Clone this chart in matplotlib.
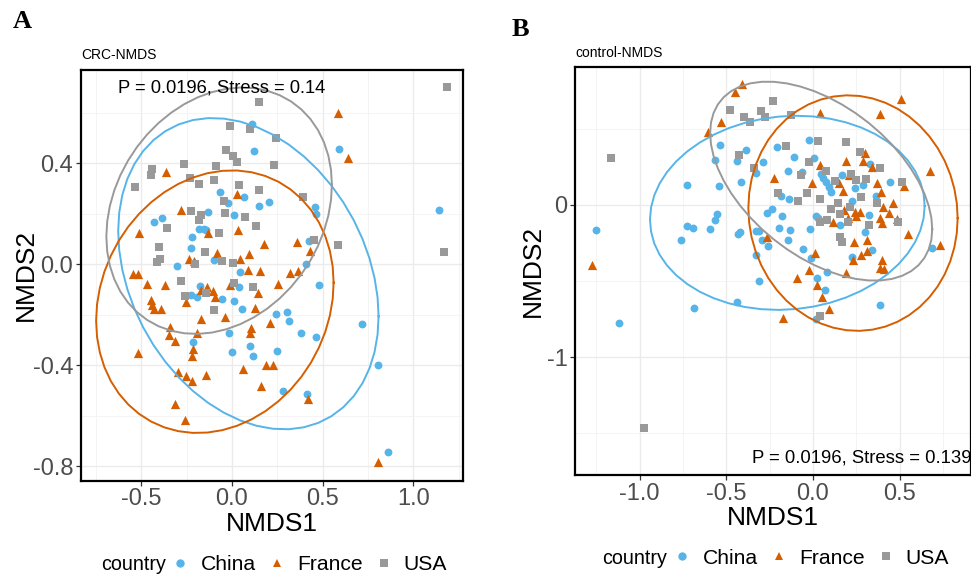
import numpy as np
import matplotlib
matplotlib.use("Agg")
import matplotlib.pyplot as plt
from matplotlib.lines import Line2D

plt.rcParams['font.family'] = ['Liberation Sans', 'DejaVu Sans']

# ---------------- data: panel A (CRC) ----------------
a_china_x = [0.109, 0.123, -0.066, 0.065, -0.024, 0.202, 0.149, -0.134, 0.009, -0.388,
             -0.43, -0.18, -0.154, -0.143, -0.222, -0.228, -0.099, -0.302, 0.046, 0.59,
             0.459, 0.463, 1.142, 0.425, 0.408, -0.224, -0.193, -0.175, -0.055, 0.039,
             0.013, 0.055, 0.241, -0.017, -0.215, -0.002, 0.099, 0.117, 0.25, 0.48,
             0.302, 0.316, 0.379, 0.462, 0.715, 0.807, 0.283, 0.412, 0.859]
a_china_y = [0.554, 0.449, 0.286, 0.268, 0.243, 0.247, 0.231, 0.207, 0.195, 0.185,
             0.169, 0.14, 0.14, 0.134, 0.107, 0.066, 0.017, -0.006, -0.032, 0.455,
             0.228, 0.199, 0.216, 0.092, 0.002, -0.122, -0.128, -0.085, -0.139, -0.091,
             -0.147, -0.178, -0.198, -0.273, -0.307, -0.347, -0.324, -0.362, -0.342, -0.082,
             -0.188, -0.225, -0.273, -0.287, -0.236, -0.399, -0.501, -0.515, -0.743]

a_france_x = [-0.362, 0.026, -0.283, -0.513, -0.132, 0.031, -0.084, 0.175, 0.095, 0.044,
              -0.237, -0.211, -0.544, -0.518, 0.09, 0.156, 0.586, 0.638, 0.36, 0.429,
              0.32, 0.366, -0.469, -0.371, -0.448, -0.441, -0.43, -0.39, -0.252, -0.173,
              -0.14, -0.105, -0.095, -0.013, 0.145, 0.125, -0.173, -0.04, -0.34, -0.349,
              -0.316, -0.191, 0.106, 0.099, 0.211, -0.217, -0.221, -0.517, -0.298, -0.252,
              -0.221, -0.142, 0.059, 0.186, 0.226, 0.162, -0.314, -0.258, 0.255, 0.421,
              0.807]
a_france_y = [0.364, 0.28, 0.216, 0.125, 0.123, 0.136, 0.045, 0.082, 0.04, 0.022,
              0.021, 0.014, -0.037, -0.037, -0.023, -0.025, 0.598, 0.42, 0.088, 0.053,
              -0.033, -0.025, -0.078, -0.081, -0.141, -0.161, -0.178, -0.178, -0.15, -0.102,
              -0.091, -0.105, -0.128, -0.082, -0.112, -0.173, -0.218, -0.208, -0.247, -0.28,
              -0.303, -0.273, -0.251, -0.273, -0.234, -0.335, -0.363, -0.352, -0.425, -0.442,
              -0.463, -0.437, -0.415, -0.399, -0.399, -0.482, -0.553, -0.617, -0.078, -0.535,
              -0.784]

a_usa_x = [0.149, -0.009, 0.098, -0.033, 0.004, 0.029, -0.262, -0.087, 0.232, -0.44,
           -0.448, -0.533, -0.23, -0.182, -0.099, 0.039, 0.151, -0.046, -0.228, -0.169,
           -0.04, 0.07, -0.184, -0.357, 0.132, -0.072, -0.401, -0.149, -0.415, -0.397,
           -0.055, -0.202, 0.004, 1.184, 0.241, 0.393, 0.452, 0.586, 1.169, -0.28,
           -0.261, -0.143, -0.098, 0.009, 0.116]
a_usa_y = [0.642, 0.549, 0.537, 0.453, 0.429, 0.405, 0.396, 0.389, 0.394, 0.377,
           0.354, 0.306, 0.343, 0.319, 0.335, 0.313, 0.293, 0.25, 0.21, 0.195,
           0.203, 0.189, 0.174, 0.145, 0.152, 0.123, 0.069, 0.049, 0.009, 0.022,
           0.013, 0.0, 0.006, 0.701, 0.501, 0.267, 0.096, 0.078, 0.05, -0.066,
           -0.126, -0.115, -0.181, -0.075, -0.091]

# ---------------- data: panel B (control) ----------------
b_china_x = [-0.537, -0.387, -0.564, -0.437, -0.331, -0.417, -0.729, -0.542, -0.554, -0.567,
             -0.725, -0.691, -0.593, -0.763, -0.423, -0.433, -0.327, -1.252, -0.327, -1.119,
             -0.687, -0.437, -0.313, 0.021, 0.083, 0.067, 0.015, 0.385, -0.025, -0.206,
             -0.108, 0.008, 0.329, -0.287, -0.143, -0.062, 0.166, 0.048, 0.056, 0.075,
             0.09, 0.106, 0.29, 0.242, 0.444, -0.186, -0.138, 0.223, 0.364, 0.325,
             0.017, 0.031, 0.156, -0.235, -0.267, -0.177, -0.194, -0.133, -0.017, -0.31,
             -0.296, -0.258, -0.143, 0.3, 0.685, -0.056, -0.012, 0.223, 0.339]
b_china_y = [0.394, 0.359, 0.298, 0.287, 0.208, 0.149, 0.131, 0.123, -0.061, -0.1,
             -0.136, -0.153, -0.158, -0.232, -0.177, -0.192, -0.33, -0.166, -0.171, -0.777,
             -0.674, -0.639, -0.497, -0.477, -0.442, -0.558, -0.746, -0.655, 0.425, 0.381,
             0.315, 0.306, 0.267, 0.28, 0.223, 0.215, 0.197, 0.202, 0.175, 0.149,
             0.12, 0.087, 0.131, 0.11, 0.153, 0.059, 0.037, 0.026, 0.059, -0.066,
             -0.07, -0.087, -0.131, -0.028, -0.054, -0.072, -0.149, -0.164, -0.156, -0.169,
             -0.23, -0.267, -0.228, -0.175, -0.284, -0.289, -0.35, -0.339, -0.295]

b_france_x = [-0.41, -0.448, -0.529, -0.608, -1.277, -0.171, -0.091, -0.023, 0.025, 0.052,
              0.092, 0.192, 0.41, 0.04, 0.508, 0.385, 0.04, 0.3, 0.29, 0.189,
              0.342, 0.208, 0.152, -0.008, -0.223, 0.367, 0.525, 0.175, 0.39, 0.463,
              0.406, 0.437, 0.483, 0.387, 0.396, 0.181, 0.242, 0.271, 0.2, 0.248,
              0.117, -0.267, 0.238, 0.31, 0.55, 0.675, 0.733, 0.012, 0.229, 0.277,
              0.31, 0.396, 0.385]
b_france_y = [0.795, 0.74, 0.545, 0.479, -0.394, -0.74, -0.477, -0.427, -0.527, -0.604,
              -0.685, -0.449, -0.42, 0.606, 0.694, 0.599, 0.263, 0.339, 0.291, 0.291,
              0.252, 0.197, 0.146, 0.146, 0.175, 0.146, 0.127, 0.092, 0.083, 0.011,
              -0.015, -0.05, -0.092, -0.083, -0.12, -0.033, -0.044, -0.044, -0.083, -0.072,
              -0.11, -0.208, -0.241, -0.23, -0.192, 0.223, -0.263, -0.313, -0.361, -0.328,
              -0.302, -0.361, -0.416]

b_usa_x = [-0.477, -0.396, -0.364, -1.166, -0.427, -0.34, -0.973, 0.038, -0.229, -0.3,
           -0.277, -0.127, 0.027, -0.158, 0.19, -0.021, 0.271, 0.387, -0.071, 0.077,
           0.219, 0.127, 0.248, 0.304, 0.512, -0.2, -0.085, -0.036, 0.042, 0.143,
           0.277, 0.367, 0.492, 0.213, 0.104, 0.156, 0.079, 0.04, 0.2, 0.325,
           0.156, 0.166]
b_usa_y = [0.622, 0.58, 0.543, 0.309, 0.326, 0.243, -1.464, -0.729, 0.683, 0.617,
           0.58, 0.591, 0.422, 0.387, 0.416, 0.28, 0.346, 0.241, 0.197, 0.225,
           0.206, 0.158, 0.166, 0.169, 0.149, 0.081, 0.026, 0.081, 0.041, 0.015,
           0.055, 0.011, -0.11, -0.011, -0.028, -0.061, -0.098, -0.112, -0.11, -0.131,
           -0.208, -0.241]

countries = ['China', 'France', 'USA']
colors = {'China': '#56B4E9', 'France': '#D55E00', 'USA': '#999999'}
markers = {'China': 'o', 'France': '^', 'USA': 's'}
msize = {'China': 32, 'France': 44, 'USA': 30}


def cov_trob(pts, nu=5, maxit=25, tol=0.01):
    # robust t covariance, like MASS::cov.trob used by stat_ellipse
    n, p = pts.shape
    loc = pts.mean(axis=0)
    w = np.ones(n)
    for _ in range(maxit):
        w0 = w
        X = pts - loc
        S = (w[:, None] * X).T @ X / w.sum()
        Q = np.einsum('ij,jk,ik->i', X, np.linalg.inv(S), X)
        w = (nu + p) / (nu + Q)
        loc = (w[:, None] * pts).sum(axis=0) / w.sum()
        if np.all(np.abs(w - w0) < tol):
            break
    cov = (w[:, None] * X).T @ X / n
    return loc, cov


def ellipse_path(x, y, level=0.95, segments=51):
    pts = np.column_stack([x, y])
    loc, cov = cov_trob(pts)
    d2 = len(x) - 1
    qf = (d2 / 2.0) * ((1 - level) ** (-2.0 / d2) - 1)   # F(2, d2) quantile
    radius = np.sqrt(2 * qf)
    t = np.linspace(0, 2 * np.pi, segments)
    circle = np.column_stack([np.cos(t), np.sin(t)])
    L = np.linalg.cholesky(cov)
    e = loc + radius * circle @ L.T
    return e[:, 0], e[:, 1]


def draw_panel(ax, data, xlim, ylim, xmaj, xmin, ymaj, ymin, ylabels, ylab_x):
    for c in countries:
        x, y = data[c]
        ax.scatter(x, y, s=msize[c], marker=markers[c], color=colors[c], linewidths=0, zorder=3)
    for c in countries:
        x, y = data[c]
        ex, ey = ellipse_path(np.array(x), np.array(y))
        ax.plot(ex, ey, color=colors[c], lw=1.4, zorder=4)
    ax.set_xlim(xlim)
    ax.set_ylim(ylim)
    ax.set_xticks(xmaj)
    ax.set_xticks(xmin, minor=True)
    ax.set_yticks(ymaj)
    ax.set_yticks(ymin, minor=True)
    ax.set_yticklabels(ylabels)
    ax.grid(which='major', color='#EBEBEB', lw=1.0, zorder=0)
    ax.grid(which='minor', color='#F2F2F2', lw=0.6, zorder=0)
    ax.set_axisbelow(True)
    ax.tick_params(which='major', length=3.5, width=0.9, color='#333333',
                   labelsize=17, labelcolor='#4D4D4D', pad=2)
    ax.tick_params(which='minor', length=0)
    for s in ax.spines.values():
        s.set_linewidth(1.6)
        s.set_color('black')
    ax.set_xlabel('NMDS1', fontsize=19, labelpad=1)
    ax.set_ylabel('NMDS2', fontsize=19)
    ax.yaxis.set_label_coords(ylab_x, 0.5)


fig = plt.figure(figsize=(9.71, 5.77), dpi=100)

axA = fig.add_axes([0.0834, 0.1669, 0.3937, 0.7118])
draw_panel(axA,
           {'China': (a_china_x, a_china_y), 'France': (a_france_x, a_france_y),
            'USA': (a_usa_x, a_usa_y)},
           (-0.833, 1.276), (-0.857, 0.7695),
           [-0.5, 0.0, 0.5, 1.0], [-0.75, -0.25, 0.25, 0.75, 1.25],
           [-0.8, -0.4, 0.0, 0.4], [-0.6, -0.2, 0.2, 0.6],
           ['-0.8', '-0.4', '0.0', '0.4'], -0.112)
axA.set_xticklabels(['-0.5', '0.0', '0.5', '1.0'])
axA.text(-0.629, 0.698, 'P = 0.0196, Stress = 0.14', transform=axA.transData,
         fontsize=13.2, ha='left', va='center', zorder=5)

axB = fig.add_axes([0.5922, 0.1768, 0.4078, 0.7071])
draw_panel(axB,
           {'China': (b_china_x, b_china_y), 'France': (b_france_x, b_france_y),
            'USA': (b_usa_x, b_usa_y)},
           (-1.373, 0.912), (-1.773, 0.906),
           [-1.0, -0.5, 0.0, 0.5], [-1.25, -0.75, -0.25, 0.25, 0.75],
           [-1.0, 0.0], [-1.5, -0.5, 0.5],
           ['-1', '0'], -0.076)
axB.set_xticklabels(['-1.0', '-0.5', '0.0', '0.5'])
axB.text(-0.352, -1.661, 'P = 0.0196, Stress = 0.139', transform=axB.transData,
         fontsize=13.3, ha='left', va='center', zorder=5, clip_on=False)

# panel tags and titles
fig.text(13 / 971, 1 - 22 / 577, 'A', fontsize=19, fontweight='bold',
         family='Liberation Serif', ha='left', va='center')
fig.text(512 / 971, 1 - 29 / 577, 'B', fontsize=19, fontweight='bold',
         family='Liberation Serif', ha='left', va='center')
fig.text(81 / 971, 1 - 55 / 577, 'CRC-NMDS', fontsize=10, ha='left', va='center')
fig.text(575 / 971, 1 - 53 / 577, 'control-NMDS', fontsize=10, ha='left', va='center')

# legends
handles = [Line2D([], [], ls='', marker=markers[c], color=colors[c], markersize=6,
                  markeredgewidth=0) for c in countries]


def bottom_legend(x_title, x_items, y):
    fig.text(x_title / 971, 1 - y / 577, 'country', fontsize=14.2, ha='left', va='center')
    fig.legend(handles, countries, loc='center left',
               bbox_to_anchor=(x_items / 971, 1 - y / 577), ncol=3, frameon=False,
               fontsize=15.2, handlelength=0.8, handletextpad=0.55, columnspacing=0.6,
               borderaxespad=0, borderpad=0)


bottom_legend(101, 172, 565)
bottom_legend(602, 674, 558)

fig.savefig('out.png', dpi=100)
